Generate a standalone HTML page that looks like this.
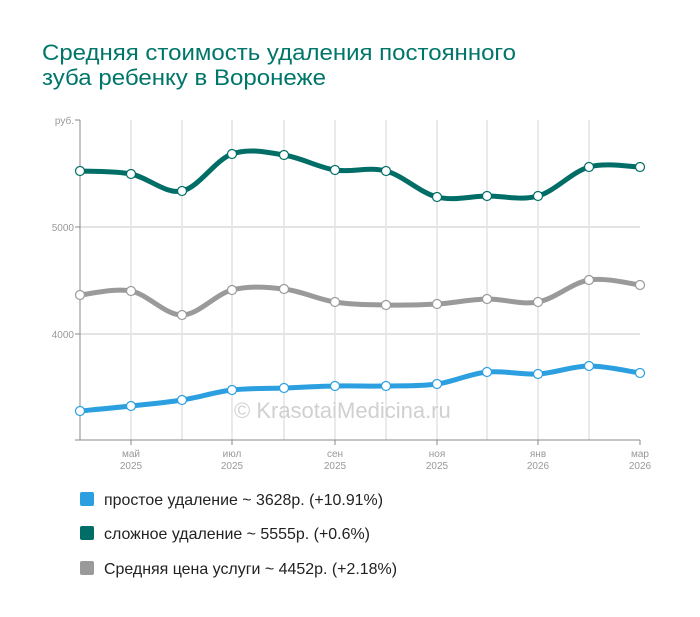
<!DOCTYPE html>
<html><head><meta charset="utf-8"><style>
body{margin:0;background:#fff;}
svg{display:block;font-family:"Liberation Sans",Arial,sans-serif;}
</style></head><body>
<svg id="c" width="700" height="617" viewBox="0 0 700 617" xmlns="http://www.w3.org/2000/svg">
<rect width="700" height="617" fill="#fff"/>
<text x="42" y="60" font-size="22" fill="#00766a" textLength="474" lengthAdjust="spacingAndGlyphs">Средняя стоимость удаления постоянного</text>
<text x="42" y="85" font-size="22" fill="#00766a" textLength="284" lengthAdjust="spacingAndGlyphs">зуба ребенку в Воронеже</text>
<g stroke="#d4d4d4" stroke-width="1">
<line x1="131" y1="120" x2="131" y2="440"/><line x1="182" y1="120" x2="182" y2="440"/><line x1="232" y1="120" x2="232" y2="440"/><line x1="284" y1="120" x2="284" y2="440"/><line x1="335" y1="120" x2="335" y2="440"/><line x1="386" y1="120" x2="386" y2="440"/><line x1="437" y1="120" x2="437" y2="440"/><line x1="487" y1="120" x2="487" y2="440"/><line x1="538" y1="120" x2="538" y2="440"/><line x1="589" y1="120" x2="589" y2="440"/>
</g>
<g stroke="#e4e4e4" stroke-width="2"><line x1="80" y1="227" x2="640" y2="227"/><line x1="80" y1="334" x2="640" y2="334"/></g>
<g stroke="#888" stroke-width="1">
<line x1="80" y1="120" x2="80" y2="440"/><line x1="80" y1="440" x2="640" y2="440"/>
<line x1="75" y1="120" x2="80" y2="120"/><line x1="75" y1="227" x2="80" y2="227"/><line x1="75" y1="334" x2="80" y2="334"/><line x1="75" y1="440" x2="80" y2="440"/>
<line x1="131" y1="440" x2="131" y2="445"/><line x1="232" y1="440" x2="232" y2="445"/><line x1="335" y1="440" x2="335" y2="445"/><line x1="437" y1="440" x2="437" y2="445"/><line x1="538" y1="440" x2="538" y2="445"/><line x1="640" y1="440" x2="640" y2="445"/>
</g>
<g font-size="10" fill="#999" text-anchor="end">
<text x="74" y="124">руб.</text><text x="74" y="231">5000</text><text x="74" y="338">4000</text>
</g>
<g font-size="10" fill="#999" text-anchor="middle">
<text x="131" y="457">май</text><text x="131" y="469">2025</text>
<text x="232" y="457">июл</text><text x="232" y="469">2025</text>
<text x="335" y="457">сен</text><text x="335" y="469">2025</text>
<text x="437" y="457">ноя</text><text x="437" y="469">2025</text>
<text x="538" y="457">янв</text><text x="538" y="469">2026</text>
<text x="640" y="457">мар</text><text x="640" y="469">2026</text>
</g>
<text x="234" y="418" font-size="22" fill="#d0d0d0">© KrasotaiMedicina.ru</text>
<g id="series"></g>
<rect x="80" y="492" width="14" height="14" rx="2" fill="#2b9fe0"/>
<rect x="80" y="526" width="14" height="14" rx="2" fill="#006e66"/>
<rect x="80" y="561" width="14" height="14" rx="2" fill="#9a9a9a"/>
<g font-size="16" fill="#222">
<text x="104" y="505" textLength="279" lengthAdjust="spacingAndGlyphs">простое удаление ~ 3628р. (+10.91%)</text>
<text x="104" y="539" textLength="266" lengthAdjust="spacingAndGlyphs">сложное удаление ~ 5555р. (+0.6%)</text>
<text x="104" y="574" textLength="293" lengthAdjust="spacingAndGlyphs">Средняя цена услуги ~ 4452р. (+2.18%)</text>
</g>
</svg>
<script>
var xs=[80,131,182,232,284,335,386,437,487,538,589,640];
var S=[
 {c:"#006e66",y:[171,174,191,154,155,170,171,197,196,196,167,167]},
 {c:"#9a9a9a",y:[295,291,315,290,289,302,305,304,299,302,280,285]},
 {c:"#2b9fe0",y:[411,406,400,390,388,386,386,384,372,374,366,373]}
];
var g=document.getElementById("series"),h="";
S.forEach(function(s){
 var p=xs.map(function(x,i){return [x,s.y[i]];});
 var d="M"+p[0][0]+","+p[0][1];
 for(var i=0;i<p.length-1;i++){
  var p0=p[i-1]||p[i],p1=p[i],p2=p[i+1],p3=p[i+2]||p2;
  var c1=[p1[0]+(p2[0]-p0[0])/6,p1[1]+(p2[1]-p0[1])/6];
  var c2=[p2[0]-(p3[0]-p1[0])/6,p2[1]-(p3[1]-p1[1])/6];
  d+=" C"+c1+" "+c2+" "+p2;
 }
 h+='<path d="'+d+'" fill="none" stroke="'+s.c+'" stroke-width="5" stroke-linecap="round"/>';
 p.forEach(function(q){h+='<circle cx="'+q[0]+'" cy="'+q[1]+'" r="4.5" fill="#fff" stroke="'+s.c+'" stroke-width="1.2"/>';});
});
g.innerHTML=h;
</script>
</body></html>
